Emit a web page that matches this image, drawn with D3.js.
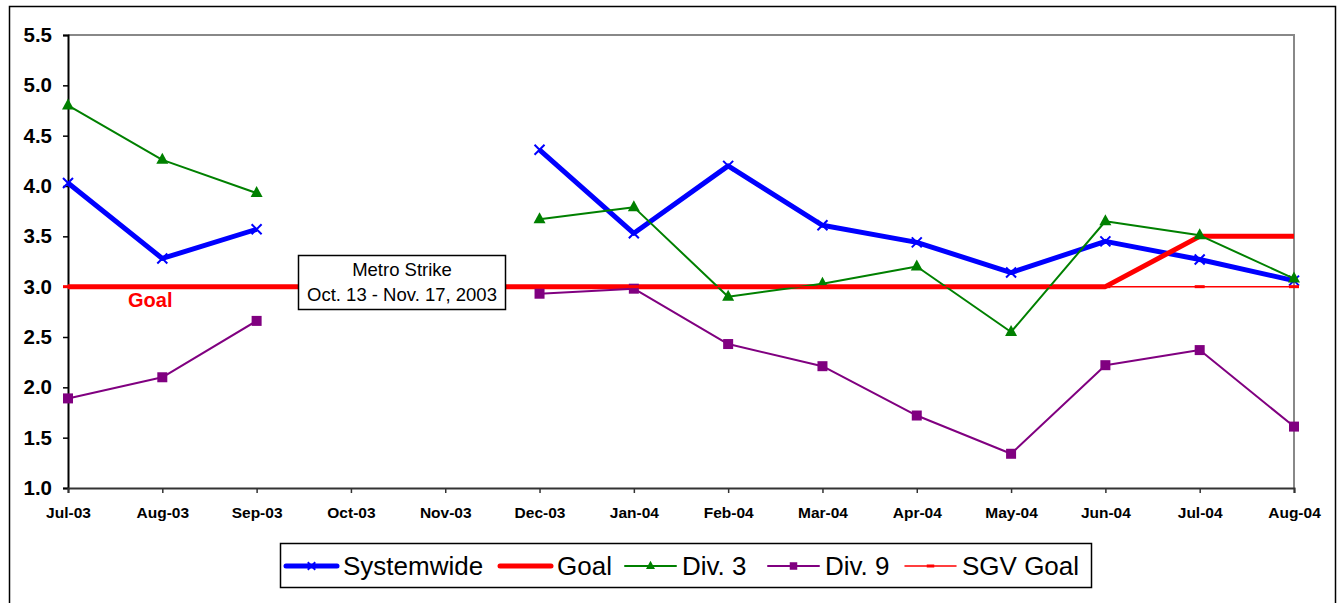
<!DOCTYPE html>
<html>
<head>
<meta charset="utf-8">
<script src="https://cdn.jsdelivr.net/npm/d3@7"></script>
<style>
  body { margin: 0; background: #fff; }
  text { font-family: Arial, "Liberation Sans", sans-serif; }
</style>
</head>
<body>
<svg id="chart" width="1339" height="603"></svg>
<script>
const months = ["Jul-03", "Aug-03", "Sep-03", "Oct-03", "Nov-03", "Dec-03", "Jan-04",
                "Feb-04", "Mar-04", "Apr-04", "May-04", "Jun-04", "Jul-04", "Aug-04"];
const systemwide = [4.03, 3.28, 3.57, null, null, 4.36, 3.53, 4.20, 3.61, 3.44, 3.14, 3.45, 3.27, 3.06];
const goal = [3.0, 3.0, 3.0, 3.0, 3.0, 3.0, 3.0, 3.0, 3.0, 3.0, 3.0, 3.0, 3.5, 3.5];
const div3 = [4.80, 4.26, 3.93, null, null, 3.67, 3.79, 2.90, 3.03, 3.20, 2.55, 3.65, 3.51, 3.08];
const div9 = [1.89, 2.10, 2.66, null, null, 2.93, 2.98, 2.43, 2.21, 1.72, 1.34, 2.22, 2.37, 1.61];
const sgvGoal = [3.0, 3.0, 3.0, 3.0, 3.0, 3.0, 3.0, 3.0, 3.0, 3.0, 3.0, 3.0, 3.0, 3.0];
const yTicks = [1.0, 1.5, 2.0, 2.5, 3.0, 3.5, 4.0, 4.5, 5.0, 5.5];

const DEFAULT = {
  LEFT: 68, RIGHT: 1294, TOP: 35, BOTTOM: 488
};

const svg = d3.select("#chart");

/* outer frame */
svg.append("path")
  .attr("d", "M9.5,603 V6.5 H1335.5 V603")
  .attr("fill", "none").attr("stroke", "#000").attr("stroke-width", 1.5);

/* Scale */
const x = d3.scalePoint().domain(months).range([DEFAULT.LEFT, DEFAULT.RIGHT]).padding(0);
const y = d3.scaleLinear().domain([1.0, 5.5]).range([DEFAULT.BOTTOM, DEFAULT.TOP]);

/* plot border (gray top/right) */
svg.append("path")
  .attr("d", `M${DEFAULT.LEFT},${y(5.5)} H${DEFAULT.RIGHT} V${y(1.0)}`)
  .attr("fill", "none").attr("stroke", "#888").attr("stroke-width", 2);

/* Axes */
const yAxis = d3.axisLeft(y).tickValues(yTicks).tickFormat(d3.format(".1f")).tickSize(5).tickPadding(11);
const gy = svg.append("g").attr("transform", `translate(${DEFAULT.LEFT},0)`).call(yAxis);
gy.select(".domain").attr("stroke", "#000").attr("stroke-width", 2);
gy.selectAll(".tick line").attr("stroke", "#000").attr("stroke-width", 1.5);
gy.selectAll(".tick text").attr("font-size", 20.5).attr("font-weight", "bold").attr("fill", "#000")
  .attr("font-family", "Arial, 'Liberation Sans', sans-serif");

const xAxis = d3.axisBottom(x).tickSize(5).tickPadding(14);
const gx = svg.append("g").attr("transform", `translate(0,${DEFAULT.BOTTOM})`).call(xAxis);
gx.select(".domain").attr("stroke", "#333").attr("stroke-width", 2);
gx.selectAll(".tick line").attr("stroke", "#333").attr("stroke-width", 1.5);
gx.selectAll(".tick text").attr("font-size", 15.5).attr("font-weight", "bold").attr("fill", "#000")
  .attr("font-family", "Arial, 'Liberation Sans', sans-serif");

/* Lines */
const line = d3.line()
  .defined(d => d.v != null)
  .x(d => x(d.m))
  .y(d => y(d.v));

const toPts = arr => arr.map((v, i) => ({ m: months[i], v: v }));

const series = [
  { name: "Systemwide", values: systemwide, color: "#0000ff", width: 5, marker: "x" },
  { name: "Goal", values: goal, color: "#ff0000", width: 5, marker: "none" },
  { name: "Div. 3", values: div3, color: "#008000", width: 2, marker: "tri" },
  { name: "Div. 9", values: div9, color: "#800080", width: 2, marker: "sq" },
  { name: "SGV Goal", values: sgvGoal, color: "#ff0000", width: 1.5, marker: "dash" }
];

function drawMarker(g, type, color, cx, cy, k) {
  k = k || 1;
  if (type === "x") {
    const r = 5 * k;
    g.append("path")
      .attr("d", `M${cx - r},${cy - r} L${cx + r},${cy + r} M${cx - r},${cy + r} L${cx + r},${cy - r}`)
      .attr("stroke", color).attr("stroke-width", 2);
  } else if (type === "tri") {
    g.append("path")
      .attr("d", `M${cx},${cy - 7 * k} L${cx + 6 * k},${cy + 4 * k} L${cx - 6 * k},${cy + 4 * k} Z`)
      .attr("fill", color);
  } else if (type === "sq") {
    g.append("rect")
      .attr("x", cx - 5 * k).attr("y", cy - 5 * k).attr("width", 10 * k).attr("height", 10 * k)
      .attr("fill", color);
  } else if (type === "dash") {
    g.append("rect")
      .attr("x", cx - 5 * k).attr("y", cy - 1.5).attr("width", 10 * k).attr("height", 3)
      .attr("fill", color);
  }
}

const plot = svg.append("g").attr("class", "lines");

function drawSeries(s) {
  const g = plot.append("g");
  const pts = toPts(s.values);
  g.append("path")
    .attr("d", line(pts))
    .attr("fill", "none")
    .attr("stroke", s.color)
    .attr("stroke-width", s.width)
    .attr("stroke-linejoin", "round");
  pts.filter(d => d.v != null).forEach(d => drawMarker(g, s.marker, s.color, x(d.m), y(d.v)));
}

series.forEach(drawSeries);

/* Goal label */
svg.append("text")
  .attr("x", 128).attr("y", 307)
  .attr("font-size", 20).attr("font-weight", "bold").attr("fill", "#ff0000")
  .text("Goal");

/* Strike annotation */
const ann = svg.append("g");
ann.append("rect")
  .attr("x", 298.5).attr("y", 255.5).attr("width", 207).attr("height", 54)
  .attr("fill", "#fff").attr("stroke", "#000").attr("stroke-width", 1.5);
ann.append("text")
  .attr("x", 402).attr("y", 276).attr("text-anchor", "middle")
  .attr("font-size", 18.5).text("Metro Strike");
ann.append("text")
  .attr("x", 402).attr("y", 301).attr("text-anchor", "middle")
  .attr("font-size", 18.5).text("Oct. 13 - Nov. 17, 2003");

/* Legend */
const legend = svg.append("g");
legend.append("rect")
  .attr("x", 280.5).attr("y", 543.5).attr("width", 811).attr("height", 44)
  .attr("fill", "#fff").attr("stroke", "#000").attr("stroke-width", 1.5);

const legendX = [286, 500, 625, 768, 905];
series.forEach((s, i) => {
  const lg = legend.append("g");
  const x0 = legendX[i], cy = 566;
  lg.append("line")
    .attr("x1", x0).attr("x2", x0 + 51).attr("y1", cy).attr("y2", cy)
    .attr("stroke", s.color).attr("stroke-width", s.width).attr("stroke-linecap", "round");
  drawMarker(lg, s.marker, s.color, x0 + 25.5, cy, 0.75);
  lg.append("text")
    .attr("x", x0 + 57).attr("y", cy + 9)
    .attr("font-size", 26).attr("fill", "#000")
    .text(s.name);
});
</script>
</body>
</html>
